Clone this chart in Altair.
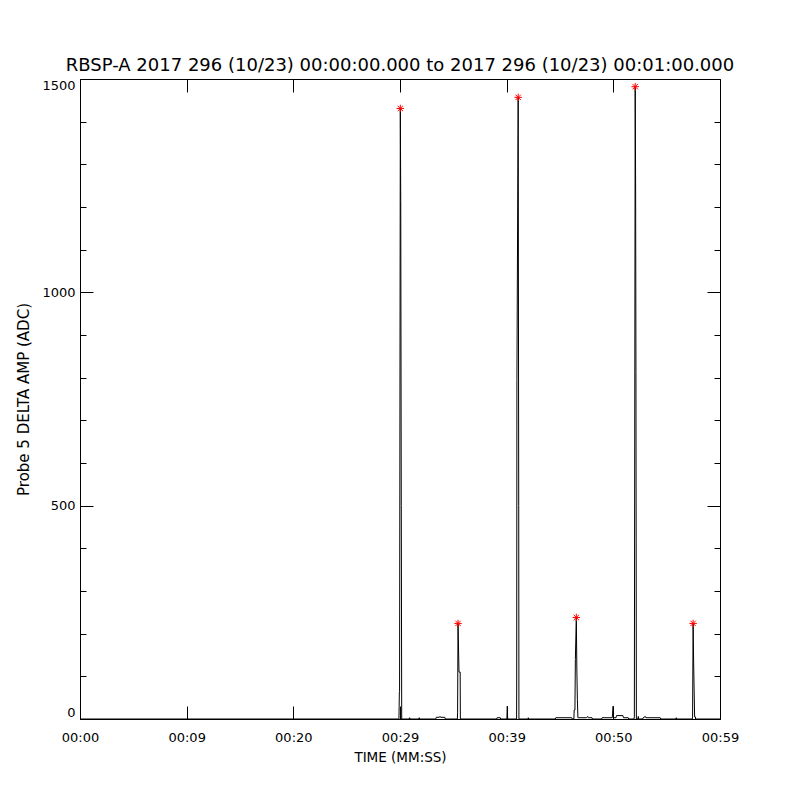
import altair as alt
import pandas as pd

# ---- data ----
trace_t = [0.0, 29.85,
           29.90, 29.92, 29.94, 29.96, 30.03, 30.07, 30.12, 30.16,
           30.85, 30.90, 30.95, 31.75, 31.80, 31.85,
           33.35, 33.40, 33.70, 33.75, 33.80, 34.20, 34.25,
           35.38, 35.40, 35.44, 35.53, 35.64, 35.66,
           39.05, 39.10, 39.40, 39.45,
           40.02, 40.06, 40.09,
           40.93, 40.94, 40.96, 41.08, 41.13, 41.15,
           42.00, 42.03, 42.06,
           44.55, 44.60, 46.10, 46.15,
           46.30, 46.33, 46.40, 46.44, 46.53, 46.58, 46.63, 46.68,
           46.70, 47.50, 47.60, 47.65, 48.00, 48.05,
           48.90, 48.95, 49.90, 49.98, 50.02, 50.25, 50.30, 50.90, 50.95, 51.40, 51.45,
           51.94, 51.97, 52.05, 52.09, 52.12, 52.16,
           52.30, 52.34, 52.38,
           52.75, 52.80, 53.00, 53.05, 54.40, 54.45,
           55.85, 55.90, 55.95,
           57.40, 57.43, 57.48, 57.53, 57.62, 57.69, 57.71,
           60.0]
trace_v = [0, 0,
           0, 30, 64, 64, 1431, 1215, 500, 0,
           0, 3, 0, 0, 3, 0,
           0, 4, 4, 6, 4, 4, 0,
           0, 16, 224, 110, 110, 0,
           0, 3, 3, 0,
           0, 30, 0,
           0, 68, 795, 1457, 500, 0,
           0, 3, 0,
           0, 3, 3, 0,
           0, 21, 21, 140, 238, 115, 45, 3,
           3, 3, 6, 3, 3, 0,
           0, 3, 3, 30, 3, 3, 8, 8, 3, 3, 0,
           0, 5, 1482, 1240, 815, 0,
           0, 6, 0,
           0, 3, 6, 3, 3, 0,
           0, 3, 0,
           0, 5, 224, 131, 5, 5, 0,
           0]

peak_t = [30.03, 35.44, 41.08, 46.53, 52.05, 57.48]
peak_v = [1431, 224, 1457, 238, 1482, 224]

x_tick_values = [0, 10, 20, 30, 40, 50, 60]
x_tick_labels = ["00:00", "00:09", "00:20", "00:29", "00:39", "00:50", "00:59"]
y_major = [0, 500, 1000, 1500]
y_minor = [100, 200, 300, 400, 600, 700, 800, 900, 1100, 1200, 1300, 1400]

title_text = "RBSP-A 2017 296 (10/23) 00:00:00.000 to 2017 296 (10/23) 00:01:00.000"
x_title = "TIME (MM:SS)"
y_title = "Probe 5 DELTA AMP (ADC)"

FONT = "DejaVu Sans"

trace = pd.DataFrame({"t": trace_t, "v": trace_v})
peaks = pd.DataFrame({"t": peak_t, "v": peak_v})

xs = alt.Scale(domain=[0, 60], nice=False, zero=False)
ys = alt.Scale(domain=[0, 1500], nice=False, zero=False)

label_expr = "[" + ",".join("'%s'" % s for s in x_tick_labels) + "][round(datum.value/10)]"

common = dict(grid=False, domain=False, tickColor="black", tickWidth=1,
              labelColor="black", labelFont=FONT, labelFontSize=13,
              titleColor="black", titleFont=FONT, titleFontWeight="normal")

x_bottom = alt.Axis(orient="bottom", values=x_tick_values, labelExpr=label_expr,
                    tickSize=13, offset=-13, labelPadding=12, labelAngle=0,
                    labelFlush=False, labelOverlap=False,
                    title=x_title, titleFontSize=13.5, titlePadding=6, **common)
x_top = alt.Axis(orient="top", values=x_tick_values, tickSize=13, offset=-13,
                 labels=False, title=None, **common)

y_left = alt.Axis(orient="left", values=y_major, format="d", tickSize=13, offset=-13,
                  labelPadding=5, labelFlush=True, labelOverlap=False, title=y_title,
                  titleFontSize=15, titlePadding=10, **common)
y_left_minor = alt.Axis(orient="left", values=y_minor, tickSize=6, offset=-6,
                        labels=False, title=None, **common)
y_right = alt.Axis(orient="right", values=y_major, tickSize=13, offset=-13,
                   labels=False, title=None, **common)
y_right_minor = alt.Axis(orient="right", values=y_minor, tickSize=6, offset=-6,
                         labels=False, title=None, **common)

star = "M-1,0L1,0M0,-1L0,1M-0.7,-0.7L0.7,0.7M-0.7,0.7L0.7,-0.7"

line = alt.Chart(trace).mark_line(color="black", strokeWidth=1).encode(
    x=alt.X("t:Q", scale=xs, axis=x_bottom),
    y=alt.Y("v:Q", scale=ys, axis=y_left),
)
stars = alt.Chart(peaks).mark_point(shape=star, color="red", filled=False,
                                    strokeWidth=1, size=56, opacity=1).encode(
    x=alt.X("t:Q", scale=xs, axis=x_top),
    y=alt.Y("v:Q", scale=ys, axis=y_left_minor),
)
ghost1 = alt.Chart(peaks).mark_point(opacity=0).encode(
    x=alt.X("t:Q", scale=xs, axis=None),
    y=alt.Y("v:Q", scale=ys, axis=y_right),
)
ghost2 = alt.Chart(peaks).mark_point(opacity=0).encode(
    x=alt.X("t:Q", scale=xs, axis=None),
    y=alt.Y("v:Q", scale=ys, axis=y_right_minor),
)

chart = alt.layer(line, stars, ghost1, ghost2).resolve_axis(
    x="independent", y="independent"
).properties(
    width=640, height=640,
    autosize=alt.AutoSizeParams(type="none"),
    padding={"left": 72, "top": 71, "right": 60, "bottom": 70},
    background="white",
    title=alt.TitleParams(title_text, font=FONT, fontSize=18, fontWeight="normal",
                          color="black", offset=-10, baseline="alphabetic",
                          anchor="middle"),
).configure_view(stroke="black", strokeWidth=1)

chart.save("out.html", embed_options={"renderer": "svg", "actions": False})
